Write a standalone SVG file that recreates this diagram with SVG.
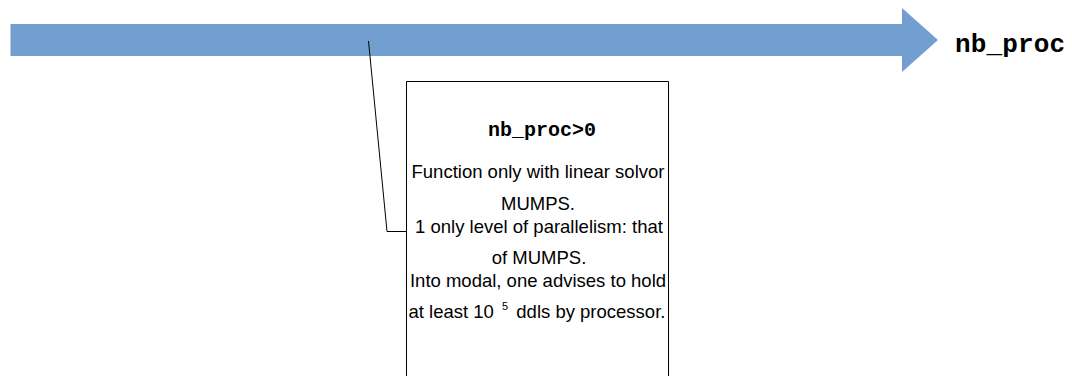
<svg xmlns="http://www.w3.org/2000/svg" width="1072" height="376" viewBox="0 0 1072 376">
  <style>
    .mono { font-family: "Liberation Mono", "Courier New", monospace; font-weight: bold; fill: #000; }
    .body { font-family: "Liberation Sans", Arial, sans-serif; font-size: 18.5px; fill: #000; text-anchor: middle; }
    .box { fill: #fff; stroke: #000; stroke-width: 1; }
    .conn { fill: none; stroke: #000; stroke-width: 1; }
  </style>
  <rect width="1072" height="376" fill="#fff"/>
  <g id="axis">
    <polygon points="10.5,24 902,24 902,8 938,40 902,72 902,56 10.5,56" fill="#729fcf"/>
    <text class="mono" x="955" y="52" font-size="26" textLength="110">nb_proc</text>
  </g>
  <g id="note">
    <path class="box" d="M406.5,380 V81.5 H668.5 V380"/>
    <text class="mono" x="542" y="136" font-size="20" text-anchor="middle">nb_proc&gt;0</text>
    <text class="body" x="538" y="178">Function only with linear solvor</text>
    <text class="body" x="538" y="210">MUMPS.</text>
    <text class="body" x="539" y="233">1 only level of parallelism: that</text>
    <text class="body" x="539" y="264">of MUMPS.</text>
    <text class="body" x="538" y="287">Into modal, one advises to hold</text>
    <text class="body" x="537" y="318">at least 10 <tspan font-size="11" dx="3" dy="-8">5</tspan><tspan dx="3" dy="8"> ddls by processor.</tspan></text>
  </g>
  <g id="connectors">
    <polyline class="conn" points="368.5,41 387,231.5 406,231.5"/>
  </g>
</svg>
